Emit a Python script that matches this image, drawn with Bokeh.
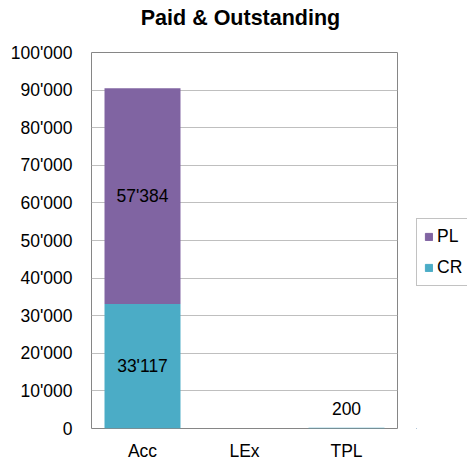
from bokeh.plotting import figure
from bokeh.layouts import row, column
from bokeh.models import FactorRange, Range1d, FixedTicker, ColumnDataSource, Legend, LegendItem, Div
from bokeh.core.properties import value
from bokeh.embed import file_html
from bokeh.resources import INLINE

title_text = "Paid & Outstanding"
categories = ["Acc", "LEx", "TPL"]
cr_values = [33117, 0, 200]
pl_values = [57384, 0, 0]
series = ["CR", "PL"]
legend_order = ["PL", "CR"]
y_ticks = [0, 10000, 20000, 30000, 40000, 50000, 60000, 70000, 80000, 90000, 100000]

COLORS = {"CR": "#4BACC6", "PL": "#8064A2"}
FONT = "Liberation Sans"


def fmt(v):
    return f"{v:,}".replace(",", "'")


title_div = Div(
    text=('<div style="font-family: \'Liberation Sans\', Arial, sans-serif; font-size: 21.5px; '
          'font-weight: bold; color: black; text-align: center; line-height: 24px; '
          'width: 467px; position: relative; top: 6px; left: 7px; white-space: nowrap;">'
          + title_text.replace("&", "&amp;") + '</div>'),
    width=467, height=40, margin=0,
)

p = figure(
    x_range=FactorRange(factors=categories),
    y_range=Range1d(0, 100000),
    width=416, height=423,
    output_backend="svg", toolbar_location=None,
    min_border_left=91, min_border_right=19, min_border_top=12, min_border_bottom=33,
)
p.background_fill_color = "white"
p.border_fill_color = "white"
p.outline_line_color = "#868686"

src = ColumnDataSource(dict(cat=categories, CR=cr_values, PL=pl_values))
rs = p.vbar_stack(series, x="cat", width=0.745, color=[COLORS[s] for s in series],
                  line_color=None, source=src)

# data labels
in_x, in_y, in_t = [], [], []
out_x, out_y, out_t = [], [], []
for i, c in enumerate(categories):
    base = 0
    for vals in (cr_values, pl_values):
        v = vals[i]
        if v > 5000:
            in_x.append(c); in_y.append(base + v / 2); in_t.append(fmt(v))
        elif v > 0:
            out_x.append(c); out_y.append(base + v); out_t.append(fmt(v))
        base += v

p.text(x=in_x, y=in_y, text=in_t, text_align="center", text_baseline="middle",
       text_font=value(FONT), text_font_size="17.5px", text_color="black")
p.text(x=out_x, y=out_y, text=out_t, text_align="center", text_baseline="alphabetic",
       y_offset=-19, text_font=value(FONT), text_font_size="17.5px", text_color="black")

# axes (the frame outline already draws the axis lines)
p.yaxis.ticker = FixedTicker(ticks=y_ticks)
p.yaxis.major_label_overrides = {t: fmt(t) for t in y_ticks}
for ax in (p.xaxis, p.yaxis):
    ax.major_tick_out = 0
    ax.major_tick_in = 0
    ax.minor_tick_out = 0
    ax.minor_tick_in = 0
    ax.axis_line_color = None
    ax.major_label_text_font = FONT
    ax.major_label_text_font_size = "17.5px"
    ax.major_label_text_color = "black"
p.yaxis.major_label_standoff = 19
p.xaxis.major_label_standoff = 12

p.xgrid.grid_line_color = None
p.ygrid.grid_line_color = "#BFBFBF"

# legend panel (a second, frameless figure to the right)
lg = figure(width=51, height=423, output_backend="svg", toolbar_location=None,
            x_axis_location=None, y_axis_location=None,
            min_border_left=0, min_border_right=0, min_border_top=0, min_border_bottom=0,
            x_range=Range1d(0, 1), y_range=Range1d(0, 1))
lg.outline_line_color = None
lg.grid.grid_line_color = None
lg.background_fill_color = "white"
lg.border_fill_color = "white"
# swatch renderers kept fully outside the visible range; they only feed the legend
legend_renderers = {s: lg.vbar(x=[-5], top=[-5], bottom=[-6], width=1, color=COLORS[s])
                    for s in legend_order}

legend = Legend(
    items=[LegendItem(label=s, renderers=[legend_renderers[s]]) for s in legend_order],
    location=(0, 142),
    border_line_color="#868686",
    background_fill_color="white",
    glyph_width=9, glyph_height=9,
    label_height=10, spacing=10, padding=7,
    label_standoff=4, margin=0,
    label_text_font=FONT, label_text_font_size="17.5px", label_text_color="black",
)
lg.add_layout(legend)

layout = column(title_div, row(p, lg, spacing=0), spacing=0)
open("out.html", "w").write(file_html(layout, INLINE))
